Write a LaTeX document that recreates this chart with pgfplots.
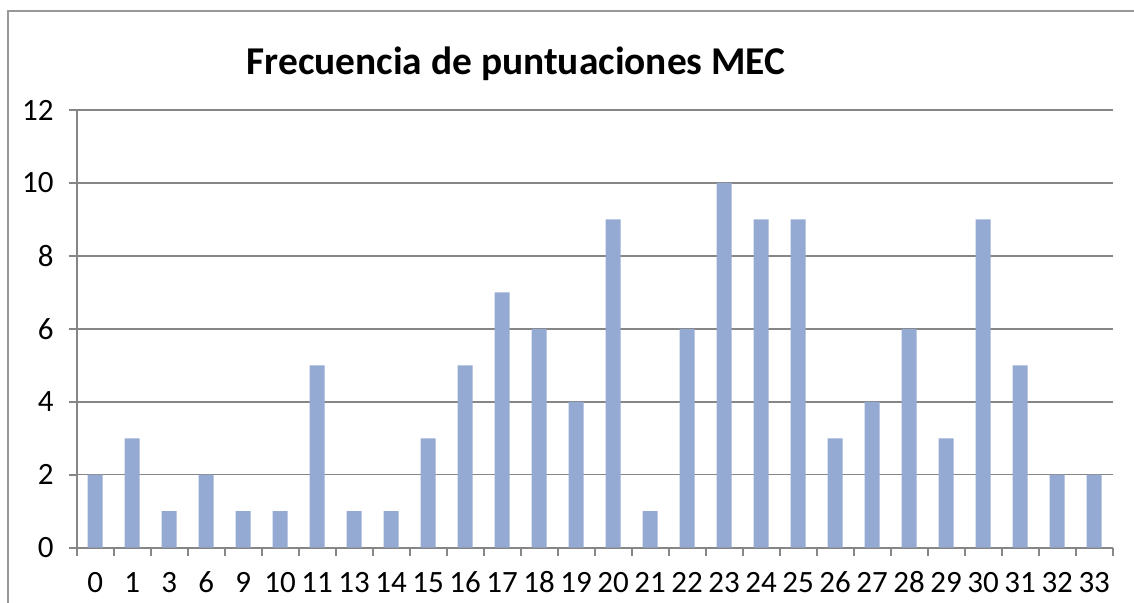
\documentclass[border=0pt]{standalone}
\usepackage{pgfplots}
\pgfplotsset{compat=1.18}
\usepackage{fontspec}
\setmainfont[Numbers=Lining]{Carlito}
\definecolor{barblue}{RGB}{149,170,210}
\definecolor{gridgray}{RGB}{134,134,134}
\begin{document}
\begin{tikzpicture}
\path[use as bounding box] (0pt,0pt) rectangle (567pt,301.5pt);
\begin{axis}[
  at={(38.35pt,27.65pt)}, anchor=south west,
  scale only axis, width=518pt, height=218.85pt,
  xmin=-0.5, xmax=27.5, ymin=0, ymax=12,
  ytick={0,2,...,12},
  xtick={0,...,27},
  xticklabels={0,1,3,6,9,10,11,13,14,15,16,17,18,19,20,21,22,23,24,25,26,27,28,29,30,31,32,33},
  minor xtick={-0.5,0.5,...,27.5},
  major x tick style={draw=none},
  axis x line*=bottom, axis y line*=left,
  axis line style={-, gridgray, line width=0.9pt},
  ymajorgrids, grid style={gridgray, line width=0.75pt},
  tick align=outside, tick style={gridgray, line width=0.9pt},
  major tick length=4pt, minor tick length=4pt,
  ticklabel style={font=\fontsize{15.5}{18}\selectfont},
  /pgf/number format/assume math mode=true,
  yticklabel style={xshift=-4pt},
  xticklabel style={yshift=-5pt, text height=10pt, text depth=0pt},
  ybar, bar width=7.5pt,
]
\addplot[fill=barblue, draw=none] coordinates {
(0,2) (1,3) (2,1) (3,2) (4,1) (5,1) (6,5) (7,1) (8,1) (9,3)
(10,5) (11,7) (12,6) (13,4) (14,9) (15,1) (16,6) (17,10) (18,9) (19,9)
(20,3) (21,4) (22,6) (23,3) (24,9) (25,5) (26,2) (27,2)};
\end{axis}
\draw[gridgray!85, line width=1pt] (4pt,0pt) -- (4pt,296pt) -- (567pt,296pt);
\node[font=\fontsize{19.7}{24}\selectfont\bfseries, anchor=base] at (258pt,264pt) {Frecuencia de puntuaciones MEC};
\end{tikzpicture}
\end{document}
